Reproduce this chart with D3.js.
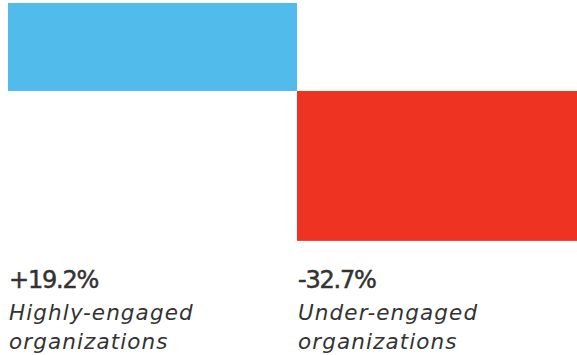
<!DOCTYPE html>
<html>
<head>
<meta charset="utf-8">
<script src="https://cdn.jsdelivr.net/npm/d3@7"></script>
<style>
  body { margin: 0; background: #fff; }
  svg { display: block; }
  .value { font-family: "DejaVu Sans", sans-serif; font-size: 24px; fill: #333; stroke: #333; stroke-width: 0.5px; letter-spacing: -1.2px; }
  .label { font-family: "DejaVu Sans", sans-serif; font-size: 21.5px; fill: #333; font-style: italic; letter-spacing: 1.1px; }
</style>
</head>
<body>
<div id="chart"></div>
<script>
const categories = ['Highly-engaged', 'Under-engaged'];
const values = [19.2, -32.7];
const valueLabels = ['+19.2%', '-32.7%'];
const subLabels = [['Highly-engaged', 'organizations'], ['Under-engaged', 'organizations']];
const colors = ['#51bceb', '#ef3323'];

const width = 577;
const height = 355;

const svg = d3.select('#chart').append('svg')
    .attr('width', width)
    .attr('height', height);

const x = d3.scaleBand()
    .domain(categories)
    .range([8, 586])
    .padding(0);

const y = d3.scaleLinear()
    .domain([0, 19.2])
    .range([91, 3]);

svg.append('g')
    .selectAll('rect')
    .data(values)
    .enter()
    .append('rect')
    .attr('x', (d, i) => x(categories[i]))
    .attr('width', x.bandwidth())
    .attr('y', d => y(Math.max(0, d)))
    .attr('height', d => Math.abs(y(d) - y(0)))
    .attr('fill', (d, i) => colors[i]);

const labels = svg.append('g')
    .selectAll('g')
    .data(categories)
    .enter()
    .append('g')
    .attr('transform', d => `translate(${x(d) + 1},0)`);

labels.append('text')
    .attr('class', 'value')
    .attr('y', 288)
    .text((d, i) => valueLabels[i]);

labels.append('text')
    .attr('class', 'label')
    .selectAll('tspan')
    .data((d, i) => subLabels[i])
    .enter()
    .append('tspan')
    .attr('x', 0)
    .attr('y', (d, i) => 320 + i * 29)
    .text(d => d);
</script>
</body>
</html>
